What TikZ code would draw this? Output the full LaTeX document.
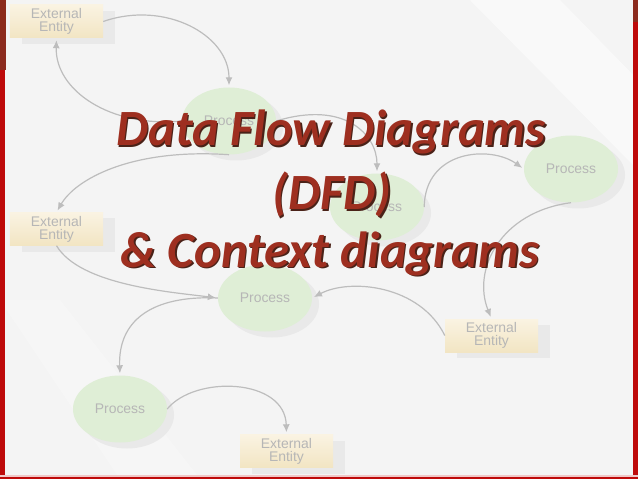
\documentclass[tikz,border=0pt]{standalone}
\usepackage{fontspec}
\setmainfont{Liberation Sans}
\newfontfamily\titlefont{Carlito}
\usetikzlibrary{arrows.meta,shapes.geometric,shadows}
\definecolor{bgc}{HTML}{F4F4F4}
\definecolor{boxtop}{HTML}{FAF3E2}
\definecolor{boxbot}{HTML}{F2E5C3}
\definecolor{procfill}{HTML}{DFEED6}
\definecolor{shadowc}{HTML}{E9E9E9}
\definecolor{nodetext}{HTML}{B6B6B6}
\definecolor{arrowc}{HTML}{BDBDBD}
\definecolor{titlered}{HTML}{9E2F20}
\definecolor{titledark}{HTML}{4A2218}
\definecolor{barbrown}{HTML}{8C2B1E}
\definecolor{barred}{HTML}{BE0A0A}
\definecolor{lightpink}{HTML}{F0C8C8}
\tikzset{
  entity/.style={rectangle, minimum width=93bp, minimum height=33bp, inner sep=0pt,
    top color=boxtop, bottom color=boxbot, text=nodetext, align=center,
    font=\fontsize{14}{13}\selectfont,
    drop shadow={shadow xshift=12bp, shadow yshift=-6bp, fill=shadowc, opacity=1}},
  proc/.style={ellipse, minimum width=94bp, minimum height=67bp, inner sep=0pt,
    fill=procfill, text=nodetext, font=\fontsize{14}{13}\selectfont,
    drop shadow={shadow xshift=7bp, shadow yshift=-6bp, fill=shadowc, opacity=1}},
  flow/.style={draw=arrowc, line width=1.2bp, -{Latex[length=8bp,width=7bp]}, shorten >=2bp},
  title/.style={font=\titlefont\bfseries\itshape\fontsize{51}{60}\selectfont,
    text=titlered, anchor=base, inner sep=0pt},
  titleshadow/.style={title, text=titledark},
}
\begin{document}
\begin{tikzpicture}[x=1bp,y=-1bp]
\useasboundingbox (0,0) rectangle (638,479);
% background
\fill[bgc] (0,0) rectangle (638,479);
\fill[white,opacity=0.5] (470,0) -- (560,0) -- (638,80) -- (638,170) -- cycle;
\fill[white,opacity=0.25] (0,300) -- (60,300) -- (200,479) -- (120,479) -- cycle;
% frame bars
\fill[barbrown] (0,0) rectangle (6,70);
\fill[barred] (0,70) rectangle (5,479);
\fill[barbrown] (633,0) rectangle (638,22);
\fill[barred] (633,22) rectangle (638,479);
\fill[lightpink] (0,475) rectangle (638,477);
\fill[barred] (0,477) rectangle (638,479);
% nodes
\node[entity] (e1) at (56.5,21.5) {External\\Entity};
\node[entity] (e2) at (56.5,229) {External\\Entity};
\node[entity] (e3) at (491.5,335.5) {External\\Entity};
\node[entity] (e4) at (286.5,451) {External\\Entity};
\node[proc] (p1) at (229,121) {Process};
\node[proc] (p2) at (377,207) {Process};
\node[proc] (p3) at (265,298) {Process};
\node[proc] (p4) at (571,169) {Process};
\node[proc] (p5) at (120,409) {Process};
% flows
\draw[flow] (e1.east) .. controls (165,0) and (229,35) .. (p1.north);
\draw[flow] (p1.west) .. controls (110,128) and (55,90) .. (e1.south);
\draw[flow] (p1.south) .. controls (130,148) and (75,180) .. (e2.north);
\draw[flow] (e2.south) .. controls (80,285) and (170,292) .. (p3.west);
\draw[flow] (p1.east) .. controls (345,100) and (377,135) .. (p2.north);
\draw[flow] (p2.east) .. controls (425,150) and (490,145) .. (p4.west);
\draw[flow] (p4.south) .. controls (500,212) and (472,270) .. (e3.north);
\draw[flow] (e3.west) .. controls (420,285) and (350,278) .. (p3.east);
\draw[flow] (p3.west) .. controls (150,295) and (118,322) .. (p5.north);
\draw[flow] (p5.east) .. controls (195,375) and (285,378) .. (e4.north);
% title
\node[titleshadow] (t1s) at (332.5,147.5) {Data Flow Diagrams};
\node[title] (t1) at (331,146) {Data Flow Diagrams};
\node[titleshadow] (t2s) at (333.5,211.5) {(DFD)};
\node[title] (t2) at (332,210) {(DFD)};
\node[titleshadow] (t3s) at (331.5,268.5) {\& Context diagrams};
\node[title] (t3) at (330,267) {\& Context diagrams};
\end{tikzpicture}
\end{document}
